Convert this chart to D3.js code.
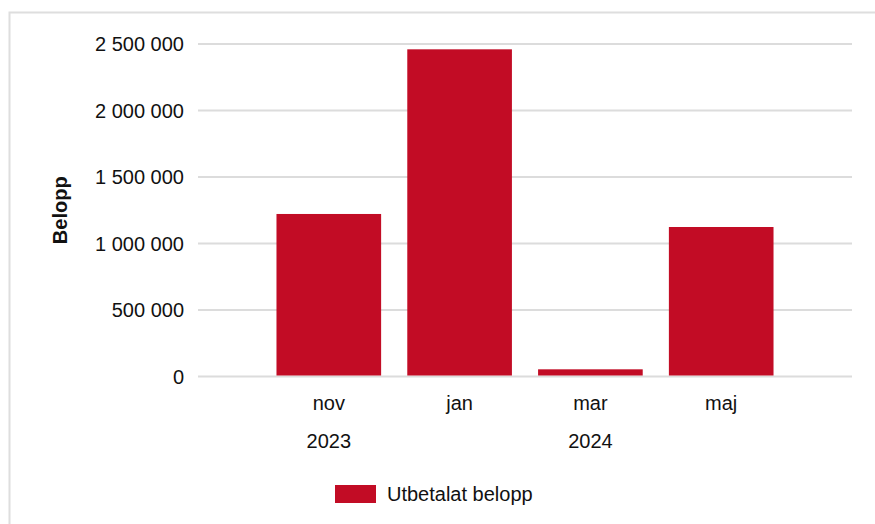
<!DOCTYPE html>
<html>
<head>
<meta charset="utf-8">
<script src="https://cdn.jsdelivr.net/npm/d3@7"></script>
<style>
  body { margin: 0; background: #fff; }
  svg { display: block; font-family: "Liberation Sans", Arial, sans-serif; }
</style>
</head>
<body>
<div id="chart"></div>
<script>
// chart data
const months = ["nov", "jan", "mar", "maj"];
const years = [{ label: "2023", from: "nov", to: "nov" }, { label: "2024", from: "jan", to: "maj" }];
const payouts = [1222000, 2460000, 54000, 1124000];
const yTicks = [0, 500000, 1000000, 1500000, 2000000, 2500000];
const seriesName = "Utbetalat belopp";
const yTitle = "Belopp";

const W = 875, H = 524;
const margin = { top: 44, right: 23, bottom: 147.5, left: 198 };
const width = W - margin.left - margin.right,
      height = H - margin.top - margin.bottom;
const barColor = "#c20c25";
const fontSize = "20px";

const svg = d3.select("#chart").append("svg")
    .attr("width", W).attr("height", H);

// panel border (only top/left visible)
svg.append("rect")
    .attr("x", 9.5).attr("y", 12.5)
    .attr("width", W + 20).attr("height", H + 20)
    .attr("fill", "none").attr("stroke", "#dedede").attr("stroke-width", 2);

const g = svg.append("g")
    .attr("transform", "translate(" + margin.left + "," + margin.top + ")");

const x = d3.scaleBand()
    .domain(months)
    .range([0, width])
    .paddingInner(0.2)
    .paddingOuter(0.6);

const y = d3.scaleLinear()
    .domain([0, 2500000])
    .range([height, 0]);

const fmt = v => d3.format(",")(v).replace(/,/g, " ");

// gridlines
g.append("g").selectAll("line")
    .data(yTicks)
    .enter().append("line")
    .attr("x1", 0).attr("x2", width)
    .attr("y1", d => y(d)).attr("y2", d => y(d))
    .attr("stroke", "#dcdcdc").attr("stroke-width", 2);

// y tick labels
g.append("g").selectAll("text")
    .data(yTicks)
    .enter().append("text")
    .attr("x", -14).attr("y", d => y(d))
    .attr("dy", "0.35em")
    .attr("text-anchor", "end")
    .style("font-size", fontSize)
    .attr("fill", "#111")
    .text(fmt);

// bars
g.append("g").selectAll("rect")
    .data(payouts)
    .enter().append("rect")
    .attr("x", (d, i) => x(months[i]))
    .attr("y", d => y(d))
    .attr("width", x.bandwidth())
    .attr("height", d => y(0) - y(d) - 1)
    .attr("fill", barColor);

// month labels
g.append("g").selectAll("text")
    .data(months)
    .enter().append("text")
    .attr("x", d => x(d) + x.bandwidth() / 2)
    .attr("y", height + 26)
    .attr("dy", "0.35em")
    .attr("text-anchor", "middle")
    .style("font-size", fontSize)
    .attr("fill", "#111")
    .text(d => d);

// year labels, centred under their month span
g.append("g").selectAll("text")
    .data(years)
    .enter().append("text")
    .attr("x", d => (x(d.from) + x(d.to) + x.bandwidth()) / 2)
    .attr("y", height + 64)
    .attr("dy", "0.35em")
    .attr("text-anchor", "middle")
    .style("font-size", fontSize)
    .attr("fill", "#111")
    .text(d => d.label);

// y title
svg.append("text")
    .attr("transform", "translate(60," + (margin.top + height / 2) + ") rotate(-90)")
    .attr("dy", "0.35em")
    .attr("text-anchor", "middle")
    .style("font-size", fontSize)
    .style("font-weight", "bold")
    .attr("fill", "#111")
    .text(yTitle);

// legend
const legend = svg.append("g").attr("transform", "translate(335,485)");
legend.append("rect")
    .attr("width", 41).attr("height", 18)
    .attr("fill", barColor);
legend.append("text")
    .attr("x", 52).attr("y", 9)
    .attr("dy", "0.35em")
    .style("font-size", fontSize)
    .attr("fill", "#111")
    .text(seriesName);
</script>
</body>
</html>
